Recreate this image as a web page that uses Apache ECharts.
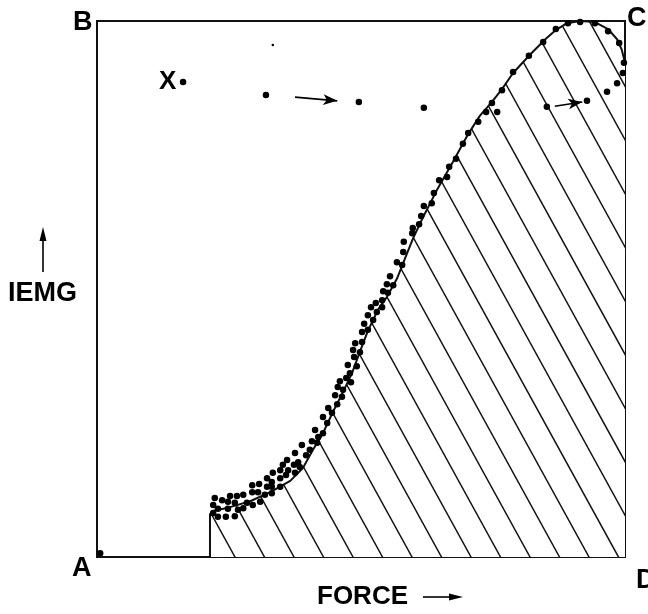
<!DOCTYPE html>
<html>
<head>
<meta charset="utf-8">
<script src="https://cdn.jsdelivr.net/npm/echarts@6/dist/echarts.min.js"></script>
<style>
  html, body { margin: 0; padding: 0; background: #fff; }
  #chart { width: 648px; height: 614px; }
</style>
</head>
<body>
<div id="chart"></div>
<script>
// Fitted IEMG-force curve (both axes in % of full scale)
const curveForce = [21.4, 21.4, 22.0, 25.2, 29.0, 32.8, 36.6, 39.0, 40.9, 42.8,
  44.7, 46.6, 48.3, 49.8, 51.3, 53.2, 54.9, 56.8, 58.3, 59.8,
  61.6, 64.4, 67.4, 70.3, 72.5, 74.8, 76.7, 78.8, 82.0, 84.8,
  86.9, 89.0, 91.5, 94.3, 96.8, 98.5, 99.4, 100];
const curveIemg = [0, 8.0, 8.6, 9.3, 10.4, 12.1, 14.2, 16.6, 20.0, 23.1,
  27.1, 30.8, 34.3, 38.3, 42.2, 46.1, 48.5, 51.9, 55.6, 59.3,
  63.1, 68.5, 73.7, 78.9, 82.3, 84.9, 87.3, 90.3, 93.7, 96.5,
  98.3, 99.6, 100, 99.8, 98.5, 96.6, 94.6, 92.2];

// Individual measurements
const dotForce = [22.0, 22.0, 22.3, 23.7, 24.8, 25.2, 26.1, 26.5, 27.7, 28.4,
  29.5, 30.9, 22.9, 24.8, 26.7, 27.7, 22.9, 24.4, 26.1, 29.4,
  30.5, 31.8, 33.1, 29.4, 30.7, 32.2, 33.1, 34.7, 32.2, 33.1,
  34.7, 33.3, 35.8, 34.7, 36.2, 37.5, 35.2, 37.3, 36.0, 38.1,
  38.4, 37.5, 39.6, 38.8, 40.3, 40.7, 41.7, 41.9, 42.8, 41.3,
  43.6, 42.8, 44.5, 43.8, 45.5, 46.4, 45.1, 46.6, 45.6, 48.1,
  46.0, 47.2, 47.9, 47.5, 49.2, 48.7, 49.8, 48.5, 50.2, 48.9,
  51.3, 50.2, 50.6, 52.3, 51.3, 53.0, 51.9, 54.0, 52.8, 54.0,
  55.1, 54.2, 56.1, 54.9, 55.5, 57.8, 56.8, 58.0, 58.1, 59.7,
  59.8, 61.0, 61.4, 61.9, 63.4, 63.8, 64.8, 66.3, 66.7, 68.0,
  69.3, 70.3, 72.2, 73.7, 74.8, 75.8, 76.7, 78.8, 81.8, 84.5,
  86.9, 89.2, 91.5, 94.3, 96.8, 98.9, 99.8, 99.6, 98.5, 96.6,
  92.8, 85.2, 16.3, 32.0, 49.6, 61.9, 0.6];
const dotIemg = [9.7, 8.2, 11.0, 10.6, 10.3, 11.4, 10.1, 11.4, 11.6, 10.1,
  9.7, 10.3, 9.0, 9.0, 8.8, 9.1, 7.5, 7.5, 7.6, 12.1,
  12.1, 11.6, 11.9, 13.4, 13.6, 13.1, 13.1, 13.1, 14.7, 14.0,
  14.7, 15.7, 15.3, 16.2, 16.2, 15.7, 17.2, 17.2, 18.1, 17.7,
  16.8, 19.4, 19.0, 20.9, 20.0, 21.6, 21.3, 22.4, 23.1, 23.7,
  25.0, 26.1, 26.9, 27.8, 28.5, 29.9, 30.2, 31.2, 31.7, 32.6,
  32.8, 33.4, 34.3, 35.8, 35.6, 37.3, 38.2, 38.6, 40.1, 39.9,
  42.4, 42.0, 43.5, 44.2, 45.1, 45.7, 46.6, 46.6, 47.4, 47.9,
  49.3, 49.6, 50.7, 50.9, 52.4, 54.5, 55.0, 56.9, 58.8, 60.4,
  61.4, 62.1, 63.6, 65.5, 66.0, 67.9, 70.3, 70.9, 72.8, 74.3,
  77.1, 79.1, 81.2, 83.0, 84.7, 83.0, 87.1, 90.5, 93.5, 96.1,
  98.5, 99.6, 99.8, 99.6, 98.1, 95.9, 92.2, 90.3, 88.4, 86.8,
  85.1, 84.0, 88.6, 86.2, 84.9, 83.8, 0.7];

// Faint speck near the top
const speckForce = [33.3];
const speckIemg = [95.5];

// Drift arrows between points
const arrowFrom = [[37.5, 85.8], [86.7, 84.1]];
const arrowTo = [[45.5, 85.1], [91.9, 84.9]];

const GRID = { left: 97, top: 21, width: 528, height: 536 };
const INK = '#000';
const FONT = 'bold 27px "Liberation Sans", Arial, Helvetica, sans-serif';

// Diagonal hatching used as the fill under the curve
function hatchCanvas() {
  const c = document.createElement('canvas');
  c.width = 648; c.height = 614;
  const ctx = c.getContext('2d');
  ctx.fillStyle = '#fff';
  ctx.fillRect(0, 0, c.width, c.height);
  ctx.strokeStyle = '#111';
  ctx.lineWidth = 1.5;
  const bottom = GRID.top + GRID.height;
  const run = 0.55;   // horizontal run per pixel of drop
  const gap = 29.5;   // spacing along the baseline
  for (let xb = GRID.left + 138 - gap * 20; xb < c.width + 400; xb += gap) {
    ctx.beginPath();
    ctx.moveTo(xb - bottom * run, 0);
    ctx.lineTo(xb + (c.height - bottom) * run, c.height);
    ctx.stroke();
  }
  return c;
}

const curve = curveForce.map((f, i) => [f, curveIemg[i]]);
const dots = dotForce.map((f, i) => [f, dotIemg[i]]);
const specks = speckForce.map((f, i) => [f, speckIemg[i]]);
const arrowLines = arrowFrom.map((p, i) => [{ coord: p }, { coord: arrowTo[i] }]);

const chart = echarts.init(document.getElementById('chart'), null, { renderer: 'canvas' });

const hiddenAxis = {
  type: 'value', min: 0, max: 100,
  axisLine: { show: false }, axisTick: { show: false },
  axisLabel: { show: false }, splitLine: { show: false }
};

chart.setOption({
  animation: false,
  backgroundColor: '#fff',
  grid: {
    left: GRID.left, top: GRID.top, width: GRID.width, height: GRID.height,
    show: true, borderColor: '#111', borderWidth: 2, backgroundColor: 'transparent',
    containLabel: false
  },
  xAxis: hiddenAxis,
  yAxis: hiddenAxis,
  series: [
    {
      type: 'line',
      data: curve,
      clip: false,
      showSymbol: false,
      symbol: 'none',
      lineStyle: { color: '#111', width: 2 },
      areaStyle: { color: { image: hatchCanvas(), repeat: 'no-repeat' }, opacity: 1 },
      z: 2
    },
    {
      type: 'scatter',
      data: dots,
      clip: false,
      symbolSize: 6.5,
      itemStyle: { color: INK, opacity: 1 },
      z: 3,
      markLine: {
        silent: true,
        symbol: ['none', 'arrow'],
        symbolSize: [8, 14],
        lineStyle: { color: INK, width: 1.6, type: 'solid', opacity: 1 },
        label: { show: false },
        data: arrowLines
      }
    },
    {
      type: 'scatter',
      data: specks,
      clip: false,
      symbolSize: 2.5,
      itemStyle: { color: INK, opacity: 1 },
      z: 3
    }
  ],
  graphic: [
    { type: 'text', x: 73, y: 23, style: { text: 'B', font: FONT, fill: INK, textVerticalAlign: 'middle' } },
    { type: 'text', x: 72, y: 569, style: { text: 'A', font: FONT, fill: INK, textVerticalAlign: 'middle' } },
    { type: 'text', x: 627, y: 19, style: { text: 'C', font: FONT, fill: INK, textVerticalAlign: 'middle' } },
    { type: 'text', x: 636, y: 581, style: { text: 'D', font: FONT, fill: INK, textVerticalAlign: 'middle' } },
    { type: 'text', x: 159, y: 82, style: { text: 'X', font: 'bold 26px "Liberation Sans", Arial, sans-serif', fill: INK, textVerticalAlign: 'middle' } },
    { type: 'text', x: 8, y: 294, style: { text: 'IEMG', font: FONT, fill: INK, textVerticalAlign: 'middle' } },
    { type: 'text', x: 317, y: 597, style: { text: 'FORCE', font: 'bold 26px "Liberation Sans", Arial, sans-serif', fill: INK, textVerticalAlign: 'middle' } },
    { type: 'line', shape: { x1: 43, y1: 272, x2: 43, y2: 236 }, style: { stroke: INK, lineWidth: 1.6 } },
    { type: 'polygon', shape: { points: [[43, 227], [39.5, 241], [46.5, 241]] }, style: { fill: INK } },
    { type: 'line', shape: { x1: 423, y1: 597, x2: 452, y2: 597 }, style: { stroke: INK, lineWidth: 1.6 } },
    { type: 'polygon', shape: { points: [[463, 597], [449, 593.5], [449, 600.5]] }, style: { fill: INK } }
  ]
});
</script>
</body>
</html>
